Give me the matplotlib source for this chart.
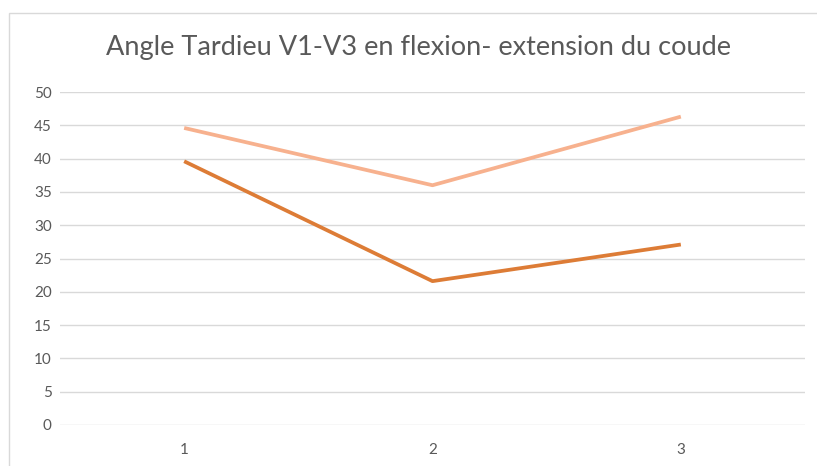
import matplotlib.pyplot as plt
from matplotlib.patches import Rectangle

categories = [1, 2, 3]
serie_claire = [44.6, 36.0, 46.3]
serie_foncee = [39.6, 21.6, 27.1]
y_ticks = list(range(0, 51, 5))

plt.rcParams['font.family'] = ['Lato', 'DejaVu Sans']

fig = plt.figure(figsize=(8.17, 4.66), dpi=100)
ax = fig.add_axes([60/817, 1 - 425/466, 745/817, 333/466])

ax.plot(categories, serie_claire, color='#F7B18E', lw=2.7, solid_capstyle='butt')
ax.plot(categories, serie_foncee, color='#DD7C36', lw=2.7, solid_capstyle='butt')

ax.set_xlim(0.5, 3.5)
ax.set_ylim(0, 50)
ax.set_xticks(categories)
ax.set_yticks(y_ticks)
ax.grid(axis='y', color='#D9D9D9', lw=1)
ax.set_axisbelow(True)
for s in ax.spines.values():
    s.set_visible(False)
ax.tick_params(length=0, colors='#595959', labelsize=11)
ax.tick_params(axis='y', pad=6)
ax.tick_params(axis='x', pad=13)

fig.text(0.512, 1 - 47/466, 'Angle Tardieu V1-V3 en flexion- extension du coude',
         ha='center', va='center', fontsize=19.5, color='#595959')

fig.patches.append(Rectangle((9/817, -0.1), 1.0, 1 - 13/466 + 0.1,
                             transform=fig.transFigure, fill=False,
                             edgecolor='#D9D9D9', lw=1))

fig.savefig('out.png', dpi=100)
